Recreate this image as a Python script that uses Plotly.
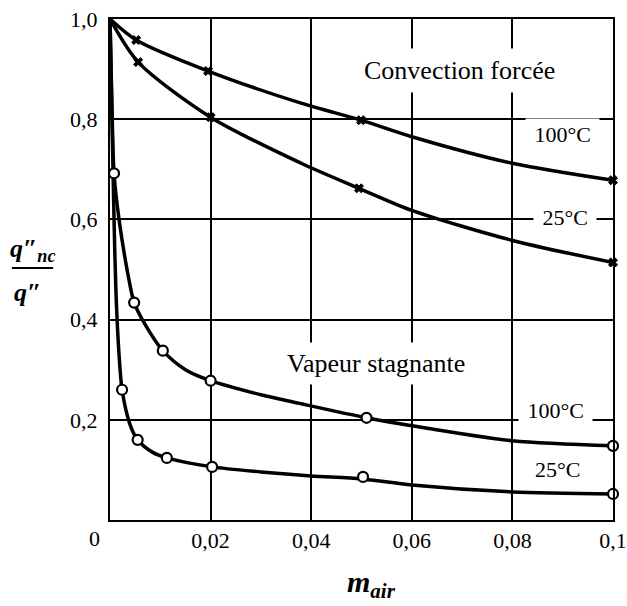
import plotly.graph_objects as go

# ---- data ----
# smooth curves
fc100_x = [0, 0.0052, 0.0195, 0.038, 0.0499, 0.06, 0.08, 0.1]
fc100_y = [1.0, 0.958, 0.896, 0.832, 0.798, 0.765, 0.712, 0.678]
fc25_x = [0, 0.0056, 0.020, 0.038, 0.0495, 0.06, 0.08, 0.1]
fc25_y = [1.0, 0.914, 0.804, 0.712, 0.662, 0.618, 0.558, 0.514]
vs100_x = [0, 0.0004, 0.0008, 0.0018, 0.0038, 0.0048, 0.007, 0.0105, 0.015, 0.020, 0.030, 0.038, 0.051, 0.060, 0.080, 0.1]
vs100_y = [1.0, 0.82, 0.692, 0.60, 0.478, 0.434, 0.39, 0.338, 0.30, 0.278, 0.25, 0.232, 0.204, 0.188, 0.158, 0.148]
vs25_x = [0, 0.0004, 0.0008, 0.0012, 0.0018, 0.0024, 0.004, 0.0055, 0.0085, 0.0113, 0.0203, 0.030, 0.040, 0.050, 0.060, 0.080, 0.1]
vs25_y = [1.0, 0.80, 0.60, 0.45, 0.33, 0.26, 0.19, 0.16, 0.135, 0.124, 0.106, 0.096, 0.088, 0.082, 0.070, 0.056, 0.052]

# measured points (markers)
fc100_px = [0.0052, 0.0195, 0.0499, 0.1]
fc100_py = [0.958, 0.896, 0.798, 0.678]
fc25_px = [0.0056, 0.020, 0.0495, 0.1]
fc25_py = [0.914, 0.804, 0.662, 0.514]
vs100_px = [0.0008, 0.0048, 0.0105, 0.020, 0.051, 0.1]
vs100_py = [0.692, 0.434, 0.338, 0.278, 0.204, 0.148]
vs25_px = [0.0024, 0.0055, 0.0113, 0.0203, 0.0503, 0.1]
vs25_py = [0.26, 0.16, 0.124, 0.106, 0.086, 0.052]

x_ticks = [0.02, 0.04, 0.06, 0.08, 0.1]
x_labels = ["0,02", "0,04", "0,06", "0,08", "0,1"]
y_ticks = [0.2, 0.4, 0.6, 0.8, 1.0]
y_labels = ["0,2", "0,4", "0,6", "0,8", "1,0"]

FONT = "Liberation Serif"
fig = go.Figure()

for xs, ys in [(fc100_x, fc100_y), (fc25_x, fc25_y), (vs100_x, vs100_y), (vs25_x, vs25_y)]:
    fig.add_trace(go.Scatter(x=xs, y=ys, mode="lines",
                             line=dict(color="black", width=3.5, shape="spline", smoothing=0.8),
                             hoverinfo="skip", showlegend=False, cliponaxis=False))

for xs, ys in [(fc100_px, fc100_py), (fc25_px, fc25_py)]:
    fig.add_trace(go.Scatter(x=xs, y=ys, mode="markers",
                             marker=dict(symbol="x", size=8, color="black",
                                         line=dict(color="black", width=1)),
                             showlegend=False, cliponaxis=False))
for xs, ys in [(vs100_px, vs100_py), (vs25_px, vs25_py)]:
    fig.add_trace(go.Scatter(x=xs, y=ys, mode="markers",
                             marker=dict(symbol="circle", size=10, color="white",
                                         line=dict(color="black", width=2.2)),
                             showlegend=False, cliponaxis=False))

def lab(text, x, y, size=22, pad=3):
    fig.add_annotation(x=x, y=y, xref="x", yref="y", text=text, showarrow=False,
                       xanchor="center", yanchor="middle",
                       font=dict(family=FONT, size=size, color="black"),
                       bgcolor="white", borderpad=pad)

lab("Convection forcée", 0.0694, 0.898, size=26, pad=7)
lab("Vapeur stagnante", 0.0529, 0.313, size=26, pad=6)
NB = "\u00a0"
lab(NB + "100°C" + NB, 0.0899, 0.770)
lab(NB + "25°C" + NB, 0.0905, 0.603)
lab(NB + "100°C" + NB, 0.0885, 0.218)
lab("25°C", 0.089, 0.10)

def paper_text(text, x, y, size, xs=0, ys=0):
    fig.add_annotation(x=x, y=y, xref="paper", yref="paper", text=text, showarrow=False,
                       xanchor="center", yanchor="middle", xshift=xs, yshift=ys,
                       font=dict(family=FONT, size=size, color="black"))

# origin label
paper_text("0", 0, 0, 22, xs=-16, ys=-18)

# y axis title as fraction
paper_text("<b><i>q</i>″<sub><i>nc</i></sub></b>", -0.153, 0.539, 26)
paper_text("<b><i>q</i>″</b>", -0.165, 0.455, 26)
fig.add_shape(type="line", xref="paper", yref="paper", x0=-0.195, x1=-0.113, y0=0.503, y1=0.503,
              line=dict(color="black", width=2))

# x axis title
paper_text("<b><i>m</i><sub><i>air</i></sub></b>", 0.52, -0.128, 30)

fig.update_xaxes(range=[0, 0.1], tickvals=x_ticks, ticktext=x_labels,
                 showgrid=True, gridcolor="black", gridwidth=1.5,
                 showline=True, linecolor="black", linewidth=2, mirror=True,
                 zeroline=False, ticks="", tickfont=dict(family=FONT, size=22, color="black"))
fig.update_yaxes(range=[0, 1.0], tickvals=y_ticks, ticktext=y_labels,
                 showgrid=True, gridcolor="black", gridwidth=1.5,
                 showline=True, linecolor="black", linewidth=2, mirror=True,
                 zeroline=False, ticks="", ticklabelstandoff=6,
                 tickfont=dict(family=FONT, size=22, color="black"))

fig.update_layout(width=627, height=606, margin=dict(l=110, r=14, t=19, b=86, autoexpand=False),
                  plot_bgcolor="white", paper_bgcolor="white", showlegend=False)

fig.write_html("out.html")
